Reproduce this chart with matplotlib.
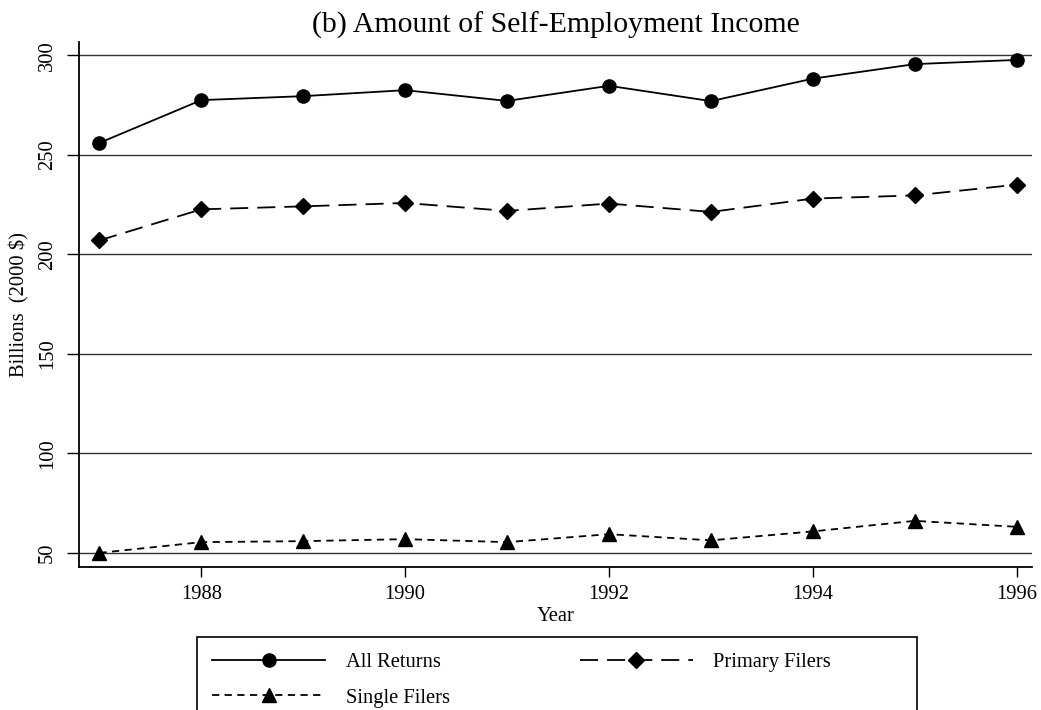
import matplotlib
matplotlib.use('Agg')
import matplotlib.pyplot as plt
from matplotlib.patches import Rectangle

plt.rcParams['font.family'] = ['Liberation Serif', 'DejaVu Serif']

# values (billions, 2000 $)
years = [1987, 1988, 1989, 1990, 1991, 1992, 1993, 1994, 1995, 1996]
all_returns = [256.0, 277.5, 279.5, 282.5, 277.1, 284.7, 277.0, 288.3, 295.6, 297.7]
primary_filers = [207.0, 222.6, 224.1, 225.8, 221.8, 225.5, 221.3, 228.0, 229.6, 235.0]
single_filers = [49.9, 55.3, 55.8, 56.8, 55.3, 59.3, 56.2, 60.7, 66.0, 63.0]
xticks = [1988, 1990, 1992, 1994, 1996]
yticks = [50, 100, 150, 200, 250, 300]

fs = 14.8
W, H = 1041, 710

fig = plt.figure(figsize=(10.41, 7.1), dpi=100)
ax = fig.add_axes([0.0759, 0.2014, 0.9155, 0.7394])

l1, = ax.plot(years, all_returns, color='black', lw=1.3, marker='o', ms=9.5,
              label='All Returns')
l2, = ax.plot(years, primary_filers, color='black', lw=1.3, marker='D', ms=8.5,
              dashes=(10, 5), label='Primary Filers')
l3, = ax.plot(years, single_filers, color='black', lw=1.3, marker='^', ms=9.5,
              dashes=(4, 3), label='Single Filers')

ax.set_xlim(1986.8, 1996.15)
ax.set_ylim(42.8, 306.7)
ax.set_xticks(xticks)
ax.set_yticks(yticks)
ax.yaxis.grid(True, color='#333333', lw=1.0)
ax.set_axisbelow(True)
for s in ['top', 'right']:
    ax.spines[s].set_visible(False)
ax.spines['left'].set_linewidth(1.3)
ax.spines['bottom'].set_linewidth(1.3)
ax.tick_params(axis='x', labelsize=fs, length=7, width=1, pad=6)
ax.tick_params(axis='y', labelsize=fs, length=9, width=1, pad=7)
plt.setp(ax.get_yticklabels(), rotation=90, va='center')

ax.set_xlabel('Year', fontsize=fs, labelpad=2)
ax.set_ylabel('Billions  (2000 $)', fontsize=fs, labelpad=6)
ax.set_title('(b) Amount of Self-Employment Income', fontsize=21.5, pad=7)

# legend box runs past the bottom edge, as in the original
fig.patches.append(Rectangle((197 / W, -0.05), 720 / W, 0.05 + 1 - 637 / H,
                             transform=fig.transFigure, fill=False,
                             edgecolor='black', lw=1.2))
leg = fig.legend([l1, l3, l2], ['All Returns', 'Single Filers', 'Primary Filers'],
                 loc='upper left', bbox_to_anchor=(197 / W, 1 - 637 / H),
                 ncol=2, fontsize=fs, frameon=False,
                 handlelength=5.5, borderaxespad=0, borderpad=0.75,
                 labelspacing=0.8, handletextpad=1.0, columnspacing=6.3)

fig.savefig('out.png', dpi=100)
